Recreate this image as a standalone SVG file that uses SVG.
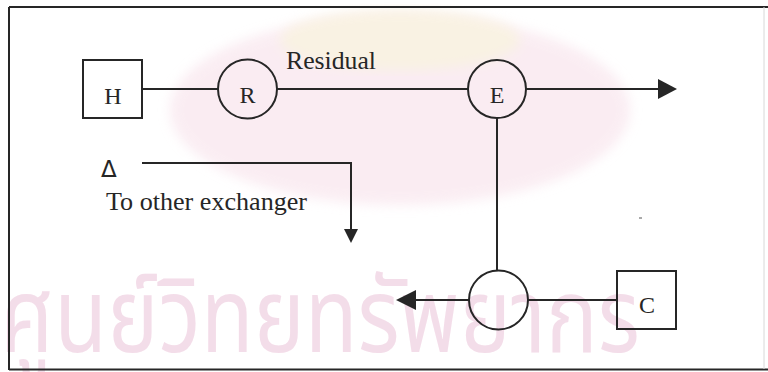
<svg xmlns="http://www.w3.org/2000/svg" width="768" height="372" viewBox="0 0 768 372">
  <defs>
    <style>
      .ln { stroke: #262626; stroke-width: 2; fill: none; }
      .nd { stroke: #262626; stroke-width: 2; fill: none; }
      .lbl { font-family: "Liberation Serif", "Times New Roman", serif; fill: #262626; }
      .tag { font-size: 24px; text-anchor: middle; }
      .wm { font-family: "Noto Sans Thai", "Loma", "Garuda", "Norasi", sans-serif; fill: #f0d2e2; }
    </style>
    <filter id="soft" x="-10%" y="-10%" width="120%" height="120%">
      <feGaussianBlur stdDeviation="6"/>
    </filter>
  </defs>

  <rect x="0" y="0" width="768" height="372" fill="#ffffff"/>

  <!-- background stamp -->
  <g id="stamp" opacity="0.5">
    <ellipse cx="400" cy="110" rx="230" ry="95" fill="#f6dbe6" filter="url(#soft)"/>
    <ellipse cx="400" cy="40" rx="120" ry="30" fill="#f4e6c8" filter="url(#soft)"/>
  </g>
  <g id="stamp-text" opacity="0.75">
    <text class="wm" x="0" y="352" font-size="104" textLength="640" lengthAdjust="spacingAndGlyphs">ศูนย์วิทยทรัพยากร</text>
  </g>

  <!-- frame -->
  <g id="frame">
    <line class="ln" x1="9" y1="7" x2="768" y2="7"/>
    <line class="ln" x1="9" y1="7" x2="9" y2="370"/>
    <line class="ln" x1="9" y1="369.5" x2="768" y2="369.5"/>
    <line x1="764" y1="7" x2="764" y2="369" stroke="#d8d8d8" stroke-width="1"/>
  </g>

  <!-- connectors -->
  <g id="connectors">
    <line class="ln" x1="142" y1="89" x2="218" y2="89"/>
    <line class="ln" x1="277" y1="89" x2="468" y2="89"/>
    <line class="ln" x1="526" y1="89" x2="659" y2="89"/>
    <polygon points="658,79 677,89 658,99" fill="#262626"/>
    <line class="ln" x1="497" y1="118" x2="497" y2="270"/>
    <line class="ln" x1="469" y1="300" x2="415" y2="300"/>
    <polygon points="416,290 396,300 416,310" fill="#262626"/>
    <line class="ln" x1="528" y1="300" x2="617" y2="300"/>
    <polyline class="ln" points="142,163 351,163 351,230"/>
    <polygon points="344,229 358,229 351,243" fill="#262626"/>
  </g>

  <!-- nodes -->
  <g id="node-H">
    <rect class="nd" x="83" y="60" width="59" height="58"/>
    <text class="lbl tag" x="113" y="104">H</text>
  </g>
  <g id="node-R">
    <circle class="nd" cx="247.5" cy="89" r="29.5"/>
    <text class="lbl tag" x="247.5" y="103">R</text>
  </g>
  <g id="node-E">
    <circle class="nd" cx="497" cy="89" r="29"/>
    <text class="lbl tag" x="497" y="102.5">E</text>
  </g>
  <g id="node-mix">
    <circle class="nd" cx="498.5" cy="300" r="29.5"/>
  </g>
  <g id="node-C">
    <rect class="nd" x="617" y="271" width="59" height="58"/>
    <text class="lbl tag" x="647" y="313">C</text>
  </g>

  <!-- labels -->
  <g id="labels">
    <text class="lbl" x="286" y="68.5" font-size="24.5" textLength="90" lengthAdjust="spacingAndGlyphs">Residual</text>
    <text x="101" y="177" font-family="DejaVu Sans, sans-serif" font-size="23" fill="#262626">Δ</text>
    <text class="lbl" x="106" y="210" font-size="25.5" textLength="201" lengthAdjust="spacingAndGlyphs">To other exchanger</text>
  </g>

  <line x1="639" y1="218" x2="642" y2="218" stroke="#555" stroke-width="1"/>
</svg>
